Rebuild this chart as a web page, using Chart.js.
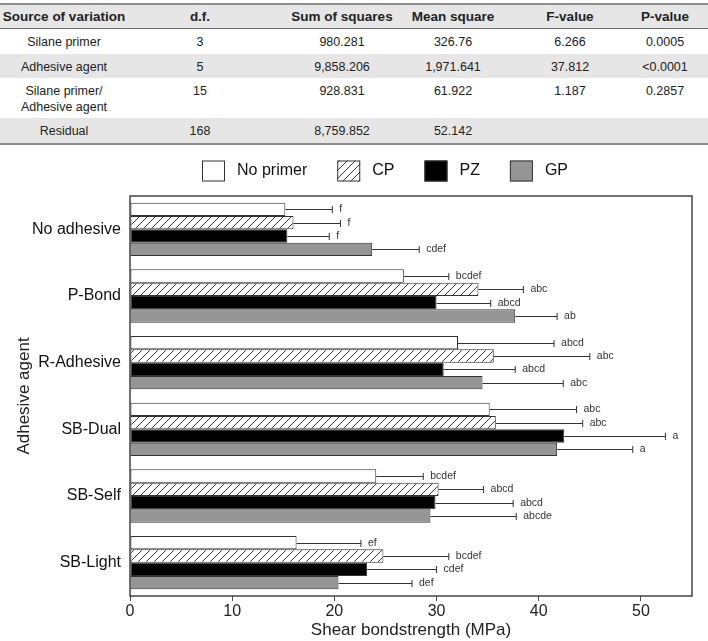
<!DOCTYPE html>
<html>
<head>
<meta charset="utf-8">
<script src="https://cdn.jsdelivr.net/npm/chart.js@4.4.0/dist/chart.umd.min.js"></script>
<style>
    html, body { margin: 0; padding: 0; background: #fff; }
    body { width: 708px; height: 641px; position: relative; overflow: hidden; font-family: "Liberation Sans", Arial, sans-serif; }
    #anova { position: absolute; left: 0; top: 0; width: 708px; height: 146px; font-size: 12.5px; color: #222; }
    .band { position: absolute; left: 0; width: 708px; }
    .cell { position: absolute; transform: translateX(-50%); white-space: pre; text-align: center; line-height: 16px; }
    .cell.head { font-size: 13.5px; font-weight: bold; }
    #chartBox { position: absolute; left: 0; top: 148px; width: 708px; height: 493px; }
</style>
</head>
<body>
<div id="anova"></div>
<div id="chartBox"><canvas id="shearChart"></canvas></div>
<script>
// ANOVA table
const tableHeader = ['Source of variation', 'd.f.', 'Sum of squares', 'Mean square', 'F-value', 'P-value'];
const sources = ['Silane primer', 'Adhesive agent', 'Silane primer/\nAdhesive agent', 'Residual'];
const dfValues = ['3', '5', '15', '168'];
const sumSquares = ['980.281', '9,858.206', '928.831', '8,759.852'];
const meanSquares = ['326.76', '1,971.641', '61.922', '52.142'];
const fValues = ['6.266', '37.812', '1.187', ''];
const pValues = ['0.0005', '<0.0001', '0.2857', ''];

// chart data
const adhesives = ['No adhesive', 'P-Bond', 'R-Adhesive', 'SB-Dual', 'SB-Self', 'SB-Light'];
const primers = ['No primer', 'CP', 'PZ', 'GP'];

const noPrimerMean = [15.2, 26.8, 32.1, 35.2, 24.1, 16.3];
const noPrimerSd = [4.6, 4.4, 9.4, 8.5, 4.6, 6.3];
const noPrimerGroup = ['f', 'bcdef', 'abcd', 'abc', 'bcdef', 'ef'];

const cpMean = [16.0, 34.1, 35.6, 35.8, 30.2, 24.8];
const cpSd = [4.6, 4.4, 9.4, 8.5, 4.4, 6.4];
const cpGroup = ['f', 'abc', 'abc', 'abc', 'abcd', 'bcdef'];

const pzMean = [15.4, 30.0, 30.7, 42.5, 29.9, 23.2];
const pzSd = [4.1, 5.3, 7.0, 9.9, 7.6, 6.8];
const pzGroup = ['f', 'abcd', 'abcd', 'a', 'abcd', 'cdef'];

const gpMean = [23.7, 37.7, 34.5, 41.8, 29.4, 20.4];
const gpSd = [4.6, 4.1, 7.9, 7.4, 8.4, 7.2];
const gpGroup = ['cdef', 'ab', 'abc', 'a', 'abcde', 'def'];

const xTicks = [0, 10, 20, 30, 40, 50];

// build the table
const colCenters = [64, 200, 342, 453, 570, 665];
const rowTops = [29, 54, 78, 118];
const rowHeights = [25, 24, 40, 25];
const anova = document.getElementById('anova');

function addBand(top, height, bg) {
    const d = document.createElement('div');
    d.className = 'band';
    d.style.top = top + 'px';
    d.style.height = height + 'px';
    d.style.background = bg;
    anova.appendChild(d);
}
function addCell(text, x, top, head) {
    const d = document.createElement('div');
    d.className = head ? 'cell head' : 'cell';
    d.textContent = text;
    d.style.left = x + 'px';
    d.style.top = top + 'px';
    anova.appendChild(d);
}

addBand(4, 25, '#e6e6e6');
addBand(rowTops[1], rowHeights[1], '#e6e6e6');
addBand(rowTops[3], rowHeights[3], '#e6e6e6');
addBand(3, 2, '#8c8c8c');
addBand(28, 1, '#6e6e6e');
addBand(143, 2, '#8c8c8c');

tableHeader.forEach((h, i) => addCell(h, colCenters[i], 9, true));
const columns = [sources, dfValues, sumSquares, meanSquares, fValues, pValues];
for (let r = 0; r < sources.length; r++) {
    columns.forEach((col, c) => addCell(col[r], colCenters[c], rowTops[r] + 4.5, false));
}

// hatch for CP
function hatch() {
    const c = document.createElement('canvas');
    c.width = 8;
    c.height = 8;
    const g = c.getContext('2d');
    g.fillStyle = '#ffffff';
    g.fillRect(0, 0, 8, 8);
    g.strokeStyle = '#3a3a3a';
    g.lineWidth = 1;
    g.beginPath();
    g.moveTo(0, 8); g.lineTo(8, 0);
    g.moveTo(-2, 2); g.lineTo(2, -2);
    g.moveTo(6, 10); g.lineTo(10, 6);
    g.stroke();
    return g.createPattern(c, 'repeat');
}

const errors = [noPrimerSd, cpSd, pzSd, gpSd];
const groups = [noPrimerGroup, cpGroup, pzGroup, gpGroup];

const dataShear = {
    labels: adhesives,
    datasets: [
        { label: primers[0], data: noPrimerMean, backgroundColor: '#ffffff' },
        { label: primers[1], data: cpMean, backgroundColor: hatch() },
        { label: primers[2], data: pzMean, backgroundColor: '#000000' },
        { label: primers[3], data: gpMean, backgroundColor: '#959595' }
    ].map(d => Object.assign(d, {
        borderColor: '#333333',
        borderWidth: 1,
        borderSkipped: false,
        barPercentage: 1.0,
        categoryPercentage: 0.8
    }))
};

// error bars + letters
const errorBars = {
    id: 'errorBars',
    afterDatasetsDraw(chart) {
        const ctx = chart.ctx;
        const xs = chart.scales.x;
        ctx.save();
        ctx.strokeStyle = '#333333';
        ctx.fillStyle = '#333333';
        ctx.lineWidth = 1;
        ctx.font = '10.5px "Liberation Sans", Arial, sans-serif';
        ctx.textBaseline = 'middle';
        chart.data.datasets.forEach((ds, i) => {
            chart.getDatasetMeta(i).data.forEach((bar, j) => {
                const xEnd = xs.getPixelForValue(ds.data[j] + errors[i][j]);
                const y = Math.round(bar.y) + 0.5;
                ctx.beginPath();
                ctx.moveTo(bar.x, y);
                ctx.lineTo(xEnd, y);
                ctx.moveTo(xEnd, y - 3.5);
                ctx.lineTo(xEnd, y + 3.5);
                ctx.stroke();
                ctx.fillText(groups[i][j], xEnd + 7, y);
            });
        });
        ctx.restore();
    }
};

// frame around the plot
const frame = {
    id: 'frame',
    afterDraw(chart) {
        const a = chart.chartArea;
        const ctx = chart.ctx;
        ctx.save();
        ctx.strokeStyle = '#444444';
        ctx.lineWidth = 1.5;
        ctx.strokeRect(a.left, a.top, a.right - a.left, a.bottom - a.top);
        ctx.restore();
    }
};

// legend row on top
const legendRow = {
    id: 'legendRow',
    afterDraw(chart) {
        const ctx = chart.ctx;
        ctx.save();
        ctx.font = '16px "Liberation Sans", Arial, sans-serif';
        ctx.textBaseline = 'middle';
        let x = 202;
        const y = 23;
        chart.data.datasets.forEach(ds => {
            ctx.fillStyle = ds.backgroundColor;
            ctx.fillRect(x, y - 10.5, 23, 21);
            ctx.strokeStyle = '#333333';
            ctx.lineWidth = 1;
            ctx.strokeRect(x + 0.5, y - 10, 22, 20);
            ctx.fillStyle = '#111111';
            ctx.fillText(ds.label, x + 35, y);
            x += 35 + ctx.measureText(ds.label).width + 30;
        });
        ctx.restore();
    }
};

const configShear = {
    type: 'bar',
    data: dataShear,
    options: {
        indexAxis: 'y',
        responsive: true,
        maintainAspectRatio: false,
        animation: false,
        layout: {
            padding: { top: 48, right: 16, left: 0, bottom: 0 }
        },
        plugins: {
            legend: { display: false },
            tooltip: { enabled: false }
        },
        scales: {
            x: {
                min: 0,
                max: 55,
                afterBuildTicks: scale => {
                    scale.ticks = xTicks.map(v => ({ value: v }));
                },
                afterFit: scale => { scale.height = 45; },
                grid: {
                    display: true,
                    drawOnChartArea: false,
                    drawTicks: true,
                    tickLength: 5,
                    color: '#444444'
                },
                border: { display: false },
                ticks: {
                    padding: 1,
                    color: '#222222',
                    font: { size: 16, family: '"Liberation Sans", Arial, sans-serif' }
                },
                title: {
                    display: true,
                    text: 'Shear bondstrength (MPa)',
                    color: '#222222',
                    padding: 0,
                    font: { size: 17, family: '"Liberation Sans", Arial, sans-serif' }
                }
            },
            y: {
                afterFit: scale => { scale.width = 130; },
                grid: { display: false, drawTicks: false },
                border: { display: false },
                ticks: {
                    padding: 9,
                    color: '#111111',
                    font: { size: 16, family: '"Liberation Sans", Arial, sans-serif' }
                },
                title: {
                    display: true,
                    text: 'Adhesive agent',
                    color: '#222222',
                    padding: { top: 14, bottom: 0 },
                    font: { size: 17, family: '"Liberation Sans", Arial, sans-serif' }
                }
            }
        }
    },
    plugins: [errorBars, frame, legendRow]
};

var shearChart = new Chart(
    document.getElementById('shearChart'),
    configShear
);
</script>
</body>
</html>
